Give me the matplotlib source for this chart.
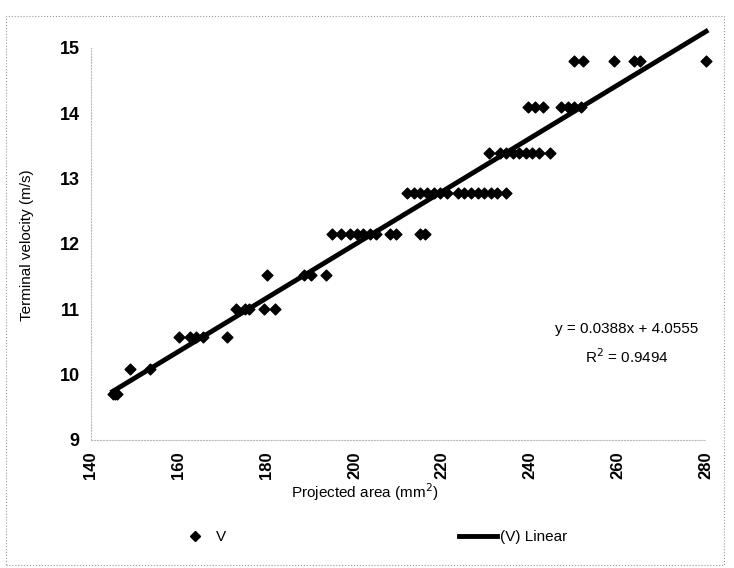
import numpy as np
import matplotlib
matplotlib.use("Agg")
import matplotlib.pyplot as plt
from matplotlib.lines import Line2D
from matplotlib.patches import Rectangle

# Datos
area = [145, 145.5, 146,
        149, 153.5,
        160, 162.5, 164, 165.5, 171,
        173, 175, 176, 179.5, 182,
        180, 188.5, 190, 193.5,
        195, 197, 199, 200.5, 202, 203.5, 205, 208, 209.5, 215, 216,
        212, 213.5, 215, 216.5, 218, 219.5, 221, 223.5, 225, 226.5, 228, 229.5, 231, 232.5, 234.5,
        230.5, 233, 234.5, 236, 237.5, 239, 240.5, 242, 244.5,
        239.5, 241, 243, 247, 248.5, 250, 251.5,
        250, 252, 259, 263.5, 265, 280]
velocidad = [9.7, 9.7, 9.7,
             10.08, 10.08,
             10.58, 10.58, 10.58, 10.58, 10.58,
             11.01, 11.01, 11.01, 11.01, 11.01,
             11.52, 11.52, 11.52, 11.52,
             12.16, 12.16, 12.16, 12.16, 12.16, 12.16, 12.16, 12.16, 12.16, 12.16, 12.16,
             12.78, 12.78, 12.78, 12.78, 12.78, 12.78, 12.78, 12.78, 12.78, 12.78, 12.78, 12.78, 12.78, 12.78, 12.78,
             13.4, 13.4, 13.4, 13.4, 13.4, 13.4, 13.4, 13.4, 13.4,
             14.1, 14.1, 14.1, 14.1, 14.1, 14.1, 14.1,
             14.8, 14.8, 14.8, 14.8, 14.8, 14.8]
x_ticks = [140, 160, 180, 200, 220, 240, 260, 280]
y_ticks = [9, 10, 11, 12, 13, 14, 15]
ecuacion = "y = 0.0388x + 4.0555"
r2_texto = "R$^2$ = 0.9494"

plt.rcParams['font.family'] = ['Liberation Sans', 'DejaVu Sans']

fig = plt.figure(figsize=(7.34, 5.68), dpi=100)
ax = fig.add_axes([0.1236, 0.2254, 0.8384, 0.6901])

# Puntos y recta de tendencia (ajuste lineal)
ax.scatter(area, velocidad, marker='D', s=30, color='black', zorder=3, clip_on=False)
coef = np.polyfit(area, velocidad, 1)
xs = np.array([min(area), max(area)])
ax.plot(xs, np.polyval(coef, xs), color='black', linewidth=3.5, zorder=2, clip_on=False)

ax.set_xlim(140, 280)
ax.set_ylim(9, 15)
ax.set_xticks(x_ticks)
ax.set_xticklabels([str(t) for t in x_ticks], rotation=90, fontsize=12, fontweight='bold')
ax.set_yticks(y_ticks)
ax.set_yticklabels([str(t) for t in y_ticks], fontsize=13, fontweight='bold')
ax.tick_params(length=0, pad=8)
for lado in ['top', 'right']:
    ax.spines[lado].set_visible(False)
for lado in ['left', 'bottom']:
    ax.spines[lado].set_color('#bbbbbb')
    ax.spines[lado].set_linestyle(':')
    ax.spines[lado].set_linewidth(0.8)

ax.text(0.8716, 0.283, ecuacion, transform=ax.transAxes, ha='center', va='center', fontsize=11)
ax.text(0.8716, 0.212, r2_texto, transform=ax.transAxes, ha='center', va='center', fontsize=11)

fig.text(27 / 734, 1 - 245 / 568, "Terminal velocity (m/s)", rotation=90,
         ha='center', va='center', fontsize=11)
fig.text(365 / 734, 1 - 492 / 568, "Projected area (mm$^2$)", ha='center', va='center', fontsize=11)

# Leyenda en dos piezas
h1 = Line2D([], [], marker='D', color='black', linestyle='none', markersize=5)
h2 = Line2D([], [], color='black', linewidth=3.5)
fig.legend([h1], ['V'], loc='center left', bbox_to_anchor=(170 / 734, 1 - 537 / 568),
           frameon=False, fontsize=11, handlelength=1.5, handletextpad=0.6)
fig.legend([h2], ['(V) Linear'], loc='center left', bbox_to_anchor=(445 / 734, 1 - 537 / 568),
           frameon=False, fontsize=11, handlelength=2.5, handletextpad=0.2)

# Borde punteado del gráfico
fig.patches.append(Rectangle((0.008, 0.006), 0.978, 0.966, transform=fig.transFigure,
                             fill=False, edgecolor='#999999', linestyle=':', linewidth=0.8))

fig.savefig("out.png", dpi=100)
